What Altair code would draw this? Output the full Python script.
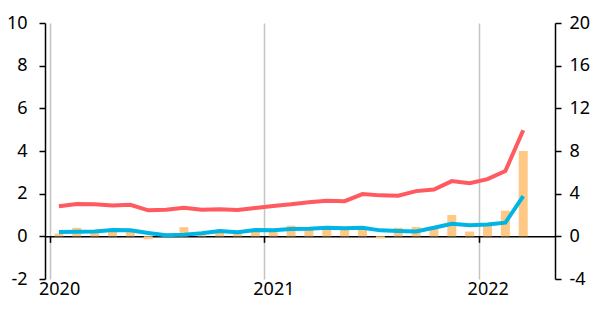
import altair as alt
import pandas as pd

# Monthly observations, Jan 2020 .. Mar 2022
months = pd.date_range("2020-01-01", "2022-03-01", freq="MS").strftime("%Y-%m").tolist()
red_line = [1.41, 1.52, 1.50, 1.44, 1.48, 1.22, 1.25, 1.34, 1.25, 1.27, 1.24, 1.33,
            1.42, 1.50, 1.60, 1.67, 1.65, 1.98, 1.92, 1.90, 2.12, 2.19, 2.59, 2.49,
            2.68, 3.06, 4.97]
blue_line = [0.20, 0.22, 0.23, 0.30, 0.28, 0.16, 0.05, 0.08, 0.14, 0.25, 0.19, 0.30,
             0.28, 0.34, 0.35, 0.40, 0.38, 0.40, 0.28, 0.25, 0.23, 0.40, 0.59, 0.52,
             0.56, 0.64, 1.89]
bars_rhs = [0.25, 0.80, 0.45, 0.60, 0.55, -0.27, 0.05, 0.86, 0.10, 0.40, 0.30, 0.45,
            0.45, 1.00, 0.65, 0.75, 0.70, 0.70, -0.20, 0.80, 0.88, 0.70, 2.00, 0.45,
            1.25, 2.40, 8.00]
lhs_ticks = [-2, 0, 2, 4, 6, 8, 10]
rhs_ticks = [-4, 0, 4, 8, 12, 16, 20]
year_ticks = [-0.5, 11.5, 23.5]

df = pd.DataFrame({
    "month": months,
    "idx": list(range(len(months))),
    "red": red_line,
    "blue": blue_line,
    "bar": bars_rhs,
})

W, H = 510, 256
FONT = "Noto Sans"
step = W / 28.0
MINUS = "replace(datum.label, '\u2212', '-')"

x_enc = alt.X(
    "idx:Q",
    scale=alt.Scale(domain=[-0.5, 27.5], nice=False, zero=False),
    axis=alt.Axis(
        values=year_ticks,
        title=None,
        orient="bottom",
        offset=-H * 2 / 12,
        grid=True,
        gridColor="#c4c4c4",
        gridWidth=1.5,
        domainColor="black",
        domainWidth=1.5,
        tickColor="black",
        tickWidth=1.5,
        tickSize=6,
        labelExpr="datum.value < 0 ? '2020' : (datum.value < 12 ? '2021' : '2022')",
        labelOffset=step / 2,
        labelPadding=38,
        labelFlush=False,
        labelOverlap=False,
        labelBound=False,
        labelFont=FONT,
        labelFontSize=18,
        labelColor="black",
    ),
)

bars = alt.Chart(df).mark_bar(width=9, color="#FFC985").encode(
    x=x_enc,
    y=alt.Y(
        "bar:Q",
        scale=alt.Scale(domain=[-4, 20], nice=False, zero=False),
        axis=alt.Axis(
            orient="right", values=rhs_ticks, title=None, grid=False,
            domainColor="black", domainWidth=1.5, tickColor="black", tickWidth=1.5,
            tickSize=6, labelPadding=8, labelFont=FONT, labelFontSize=18,
            labelColor="black", labelExpr=MINUS,
        ),
    ),
)

base = alt.Chart(df).encode(x=x_enc)
y_left = alt.Scale(domain=[-2, 10], nice=False, zero=False)
left_axis = alt.Axis(
    orient="left", values=lhs_ticks, title=None, grid=False,
    domainColor="black", domainWidth=1.5, tickColor="black", tickWidth=1.5,
    tickSize=6, labelPadding=12, labelFont=FONT, labelFontSize=18, labelColor="black",
    labelExpr=MINUS,
)
red = base.mark_line(color="#FF5A5F", strokeWidth=4).encode(
    y=alt.Y("red:Q", scale=y_left, axis=left_axis)
)
blue = base.mark_line(color="#00B4E4", strokeWidth=4).encode(
    y=alt.Y("blue:Q", scale=y_left, axis=left_axis)
)

lines = alt.layer(red, blue)

chart = alt.layer(bars, lines).resolve_scale(y="independent").properties(
    width=W, height=H,
    autosize=alt.AutoSizeParams(type="none"),
    padding={"left": 37, "top": 15, "right": 35, "bottom": 22},
).configure_view(strokeWidth=0)

chart.save("out.html", embed_options={"renderer": "svg", "actions": False})
